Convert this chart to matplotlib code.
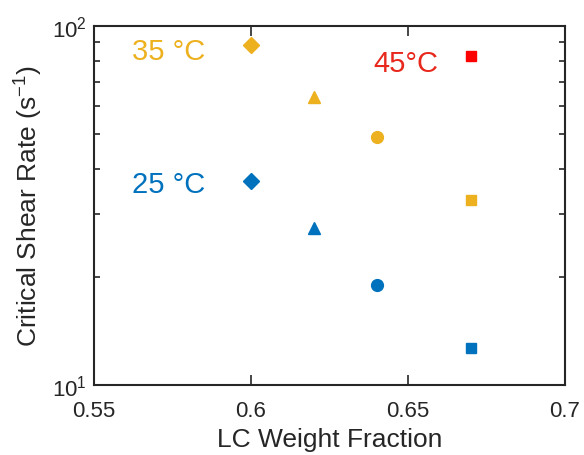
import matplotlib
matplotlib.use('Agg')
import matplotlib.pyplot as plt
from matplotlib.ticker import LogLocator, NullFormatter

plt.rcParams['font.family'] = ['Liberation Sans', 'DejaVu Sans']
plt.rcParams['mathtext.fontset'] = 'custom'
plt.rcParams['mathtext.rm'] = 'Liberation Sans'

# data
fractions = [0.60, 0.62, 0.64, 0.67]
markers = ['D', '^', 'o', 's']
rate_25 = [37.1, 27.4, 19.0, 12.7]
rate_35 = [88.7, 63.4, 49.0, 32.7]
frac_45 = [0.67]
rate_45 = [82.3]

blue = '#0072BD'
orange = '#EDB120'
red = '#FF0000'
ink = '#262626'

fig = plt.figure(figsize=(5.84, 4.56), dpi=100)
ax = fig.add_axes([94 / 584, 1 - 386 / 456, (565 - 94) / 584, (386 - 27) / 456])

sizes = {'D': 8.3, '^': 9, 'o': 8.5, 's': 7}
for x, m, y25, y35 in zip(fractions, markers, rate_25, rate_35):
    ax.plot(x, y25, marker=m, color=blue, ms=sizes[m], ls='none')
    ax.plot(x, y35, marker=m, color=orange, ms=sizes[m], ls='none')
ax.plot(frac_45, rate_45, marker='s', color=red, ms=sizes['s'], ls='none')

# temperature labels
ax.text(0.5622, 85, '35 \u00b0C', color=orange, fontsize=21, va='center')
ax.text(0.5622, 36.2, '25 \u00b0C', color=blue, fontsize=21, va='center')
ax.text(0.6389, 79, '45\u00b0C', color='#E8281C', fontsize=21, va='center')

ax.set_yscale('log')
ax.set_xlim(0.55, 0.7)
ax.set_ylim(10, 100)
ax.set_xticks([0.55, 0.6, 0.65, 0.7])
ax.set_xticklabels(['0.55', '0.6', '0.65', '0.7'])
ax.yaxis.set_minor_locator(LogLocator(base=10, subs=range(2, 10)))
ax.yaxis.set_minor_formatter(NullFormatter())

ax.tick_params(which='both', direction='in', top=True, right=True, labelsize=16,
               colors=ink, width=1.2)
ax.tick_params(which='major', length=7)
ax.tick_params(which='minor', length=4)
ax.tick_params(axis='x', pad=11)
ax.tick_params(axis='y', pad=5)
for s in ax.spines.values():
    s.set_linewidth(1.5)
    s.set_color(ink)

ax.set_xlabel('LC Weight Fraction', fontsize=19, color=ink, labelpad=4)
ax.set_ylabel('Critical Shear Rate (s$^{-1}$)', fontsize=19, color=ink, labelpad=6)

fig.savefig('out.png', dpi=100)
